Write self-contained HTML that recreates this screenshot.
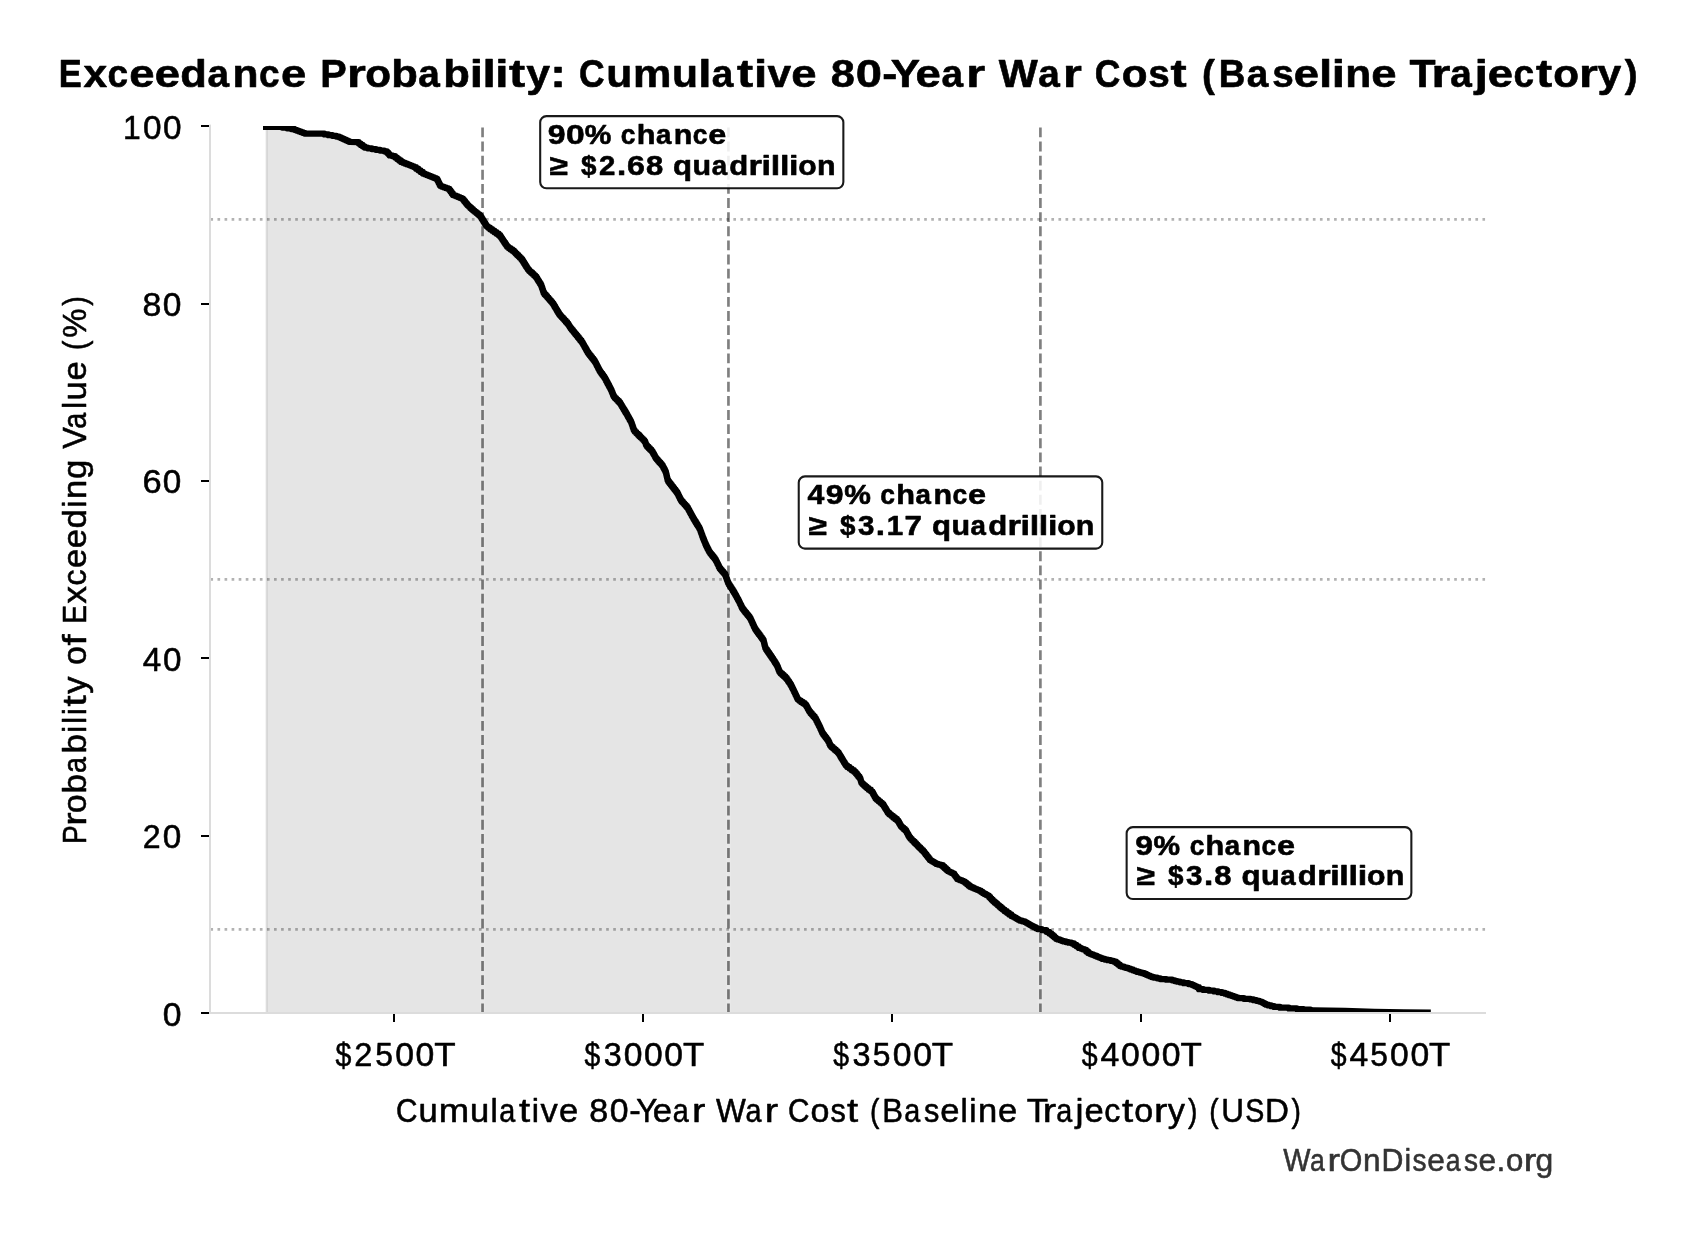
<!DOCTYPE html>
<html lang="en"><head><meta charset="utf-8"><title>Exceedance Probability: Cumulative 80-Year War Cost (Baseline Trajectory)</title>
<style>
html,body{margin:0;padding:0;background:#fff;}
body{width:1695px;height:1234px;overflow:hidden;}
svg{display:block;font-family:"Liberation Sans",sans-serif;will-change:transform;filter:grayscale(1);}
text{white-space:pre;}
</style></head><body>
<svg width="1695" height="1234" viewBox="0 0 1695 1234">
<rect width="1695" height="1234" fill="#fff"/>
<defs><clipPath id="ax"><rect x="210.0" y="125.9" width="1275.5" height="887.1"/></clipPath></defs>
<g clip-path="url(#ax)">
<path d="M266.6,1013.0 L266.6,128.0 L279.6,126.9 L285.0,127.5 L293.4,129.0 L305.7,133.5 L308.2,133.6 L322.4,133.7 L338.3,136.6 L349.9,141.8 L357.7,142.2 L365.5,147.6 L386.3,151.3 L390.2,155.4 L394.1,156.1 L401.9,161.9 L414.8,167.1 L423.9,173.6 L436.9,178.8 L440.4,185.8 L448.8,188.8 L453.4,194.9 L462.4,198.5 L467.9,205.3 L473.7,210.5 L480.2,215.7 L486.7,226.1 L499.7,235.2 L507.5,246.8 L513.3,250.7 L521.8,259.2 L528.3,269.6 L536.0,276.7 L541.2,285.1 L543.8,292.9 L552.9,303.3 L559.4,314.3 L567.8,323.4 L570.0,327.1 L576.9,335.6 L582.1,342.1 L587.9,352.4 L595.0,361.5 L599.6,370.6 L604.8,377.8 L611.3,390.1 L613.9,396.6 L619.7,402.4 L626.8,414.1 L631.4,422.5 L634.0,430.3 L639.8,436.2 L645.0,441.4 L646.3,445.2 L652.1,451.1 L656.0,458.2 L662.3,465.2 L665.8,471.9 L667.8,480.4 L677.1,492.4 L681.0,500.2 L687.5,507.4 L692.7,517.1 L699.8,528.8 L703.1,537.9 L706.3,545.7 L709.6,552.1 L715.4,559.3 L719.9,568.4 L725.1,574.2 L728.4,583.3 L734.2,592.4 L738.8,600.8 L742.3,608.2 L750.2,618.0 L755.0,628.6 L763.5,640.2 L765.4,648.0 L772.6,658.4 L777.1,665.5 L779.7,672.0 L786.2,677.9 L790.7,684.4 L797.9,699.3 L805.7,704.5 L809.6,711.6 L815.4,718.1 L819.9,727.2 L822.5,733.0 L828.2,740.5 L830.4,745.6 L838.2,752.4 L846.0,765.3 L855.0,771.8 L860.2,778.3 L861.5,782.8 L867.4,788.0 L871.9,791.3 L875.8,798.4 L882.9,804.2 L888.1,812.7 L897.9,820.5 L901.1,826.3 L905.7,830.2 L909.6,837.3 L915.4,843.2 L923.8,851.6 L930.3,860.0 L936.8,863.9 L942.0,865.2 L948.5,871.1 L953.7,873.7 L957.6,878.9 L964.1,881.5 L970.6,886.7 L979.8,890.6 L983.5,893.1 L988.2,895.6 L993.4,901.0 L1003.4,909.6 L1012.4,916.1 L1020.2,920.6 L1024.1,921.3 L1031.9,925.8 L1038.4,929.1 L1044.9,930.0 L1050.7,933.6 L1056.6,938.8 L1064.4,941.4 L1072.8,943.3 L1079.9,947.9 L1085.1,949.8 L1089.0,953.1 L1095.5,955.7 L1103.3,958.9 L1115.0,961.5 L1120.8,966.0 L1129.3,968.6 L1138.3,971.9 L1143.5,973.2 L1152.6,977.1 L1161.7,979.0 L1170.8,979.7 L1181.2,982.3 L1191.0,984.1 L1197.4,987.0 L1200.3,989.2 L1212.1,990.7 L1223.9,992.9 L1238.7,998.1 L1249.0,998.8 L1260.8,1001.5 L1266.7,1004.7 L1275.5,1006.9 L1293.2,1008.4 L1313.9,1010.3 L1344.9,1010.8 L1374.4,1011.8 L1403.9,1012.4 L1427.7,1012.5 L1427.7,1013.0 Z" fill="rgba(0,0,0,0.102)" stroke="rgba(0,0,0,0.102)" stroke-width="2.08" stroke-linejoin="miter"/>
<line x1="482.55" y1="1013.35" x2="482.55" y2="126.0" stroke="#fff" stroke-opacity="0.14" stroke-width="5.4"/>
<line x1="728.45" y1="1013.35" x2="728.45" y2="126.0" stroke="#fff" stroke-opacity="0.14" stroke-width="5.4"/>
<line x1="1040.4" y1="1013.35" x2="1040.4" y2="126.0" stroke="#fff" stroke-opacity="0.14" stroke-width="5.4"/>
<path d="M266.1,126.90 L279.6,126.91 H282.30 V127.50 H285.00 H287.10 V128.25 H289.20 H291.30 V129.00 H293.40 H294.42 V129.75 H295.45 H296.47 V130.50 H297.50 H298.52 V131.25 H299.55 H300.57 V132.00 H301.60 H302.62 V132.75 H303.65 H304.68 V133.50 H305.70 L308.2,133.60 L322.4,133.70 H324.39 V134.42 H326.38 H328.36 V135.15 H330.35 H332.34 V135.87 H334.33 H336.31 V136.60 H338.30 H339.13 V137.34 H339.96 H340.79 V138.09 H341.61 H342.44 V138.83 H343.27 H344.10 V139.57 H344.93 H345.76 V140.31 H346.59 H347.41 V141.06 H348.24 H349.07 V141.80 H349.90 L357.7,142.20 H358.68 V143.55 H359.65 H360.62 V144.90 H361.60 H362.57 V146.25 H363.55 H364.52 V147.60 H365.50 H367.58 V148.34 H369.66 H371.74 V149.08 H373.82 H375.90 V149.82 H377.98 H380.06 V150.56 H382.14 H384.22 V151.30 H386.30 H386.95 V152.67 H387.60 H388.25 V154.03 H388.90 H389.55 V155.40 H390.20 H392.15 V156.10 H394.10 H395.08 V157.55 H396.05 H397.02 V159.00 H398.00 H398.98 V160.45 H399.95 H400.92 V161.90 H401.90 H402.82 V162.64 H403.74 H404.66 V163.39 H405.59 H406.51 V164.13 H407.43 H408.35 V164.87 H409.27 H410.19 V165.61 H411.11 H412.04 V166.36 H412.96 H413.88 V167.10 H414.80 H415.94 V168.72 H417.07 H418.21 V170.35 H419.35 H420.49 V171.97 H421.62 H422.76 V173.60 H423.90 H424.83 V174.34 H425.76 H426.69 V175.09 H427.61 H428.54 V175.83 H429.47 H430.40 V176.57 H431.33 H432.26 V177.31 H433.19 H434.11 V178.06 H435.04 H435.97 V178.80 H436.90 H437.25 V180.20 H437.60 H437.95 V181.60 H438.30 H438.65 V183.00 H439.00 H439.35 V184.40 H439.70 H440.05 V185.80 H440.40 H441.45 V186.55 H442.50 H443.55 V187.30 H444.60 H445.65 V188.05 H446.70 H447.75 V188.80 H448.80 H449.38 V190.33 H449.95 H450.52 V191.85 H451.10 H451.67 V193.38 H452.25 H452.82 V194.90 H453.40 H454.30 V195.62 H455.20 H456.10 V196.34 H457.00 H457.90 V197.06 H458.80 H459.70 V197.78 H460.60 H461.50 V198.50 H462.40 H462.95 V199.86 H463.50 H464.05 V201.22 H464.60 H465.15 V202.58 H465.70 H466.25 V203.94 H466.80 H467.35 V205.30 H467.90 H468.62 V206.60 H469.35 H470.07 V207.90 H470.80 H471.52 V209.20 H472.25 H472.97 V210.50 H473.70 H474.51 V211.80 H475.32 H476.14 V213.10 H476.95 H477.76 V214.40 H478.57 H479.39 V215.70 H480.20 H480.66 V217.19 H481.13 H481.59 V218.67 H482.06 H482.52 V220.16 H482.99 H483.45 V221.64 H483.91 H484.38 V223.13 H484.84 H485.31 V224.61 H485.77 H486.24 V226.10 H486.70 H487.78 V227.62 H488.87 H489.95 V229.13 H491.03 H492.12 V230.65 H493.20 H494.28 V232.17 H495.37 H496.45 V233.68 H497.53 H498.62 V235.20 H499.70 H500.19 V236.65 H500.68 H501.16 V238.10 H501.65 H502.14 V239.55 H502.63 H503.11 V241.00 H503.60 H504.09 V242.45 H504.58 H505.06 V243.90 H505.55 H506.04 V245.35 H506.53 H507.01 V246.80 H507.50 H508.47 V248.10 H509.43 H510.40 V249.40 H511.37 H512.33 V250.70 H513.30 H514.01 V252.12 H514.72 H515.42 V253.53 H516.13 H516.84 V254.95 H517.55 H518.26 V256.37 H518.97 H519.67 V257.78 H520.38 H521.09 V259.20 H521.80 H522.26 V260.69 H522.73 H523.19 V262.17 H523.66 H524.12 V263.66 H524.59 H525.05 V265.14 H525.51 H525.98 V266.63 H526.44 H526.91 V268.11 H527.37 H527.84 V269.60 H528.30 H529.07 V271.02 H529.84 H530.61 V272.44 H531.38 H532.15 V273.86 H532.92 H533.69 V275.28 H534.46 H535.23 V276.70 H536.00 H536.43 V278.10 H536.87 H537.30 V279.50 H537.73 H538.17 V280.90 H538.60 H539.03 V282.30 H539.47 H539.90 V283.70 H540.33 H540.77 V285.10 H541.20 H541.46 V286.66 H541.72 H541.98 V288.22 H542.24 H542.50 V289.78 H542.76 H543.02 V291.34 H543.28 H543.54 V292.90 H543.80 H544.45 V294.39 H545.10 H545.75 V295.87 H546.40 H547.05 V297.36 H547.70 H548.35 V298.84 H549.00 H549.65 V300.33 H550.30 H550.95 V301.81 H551.60 H552.25 V303.30 H552.90 H553.36 V304.87 H553.83 H554.29 V306.44 H554.76 H555.22 V308.01 H555.69 H556.15 V309.59 H556.61 H557.08 V311.16 H557.54 H558.01 V312.73 H558.47 H558.94 V314.30 H559.40 H560.10 V315.82 H560.80 H561.50 V317.33 H562.20 H562.90 V318.85 H563.60 H564.30 V320.37 H565.00 H565.70 V321.88 H566.40 H567.10 V323.40 H567.80 H568.17 V324.63 H568.53 H568.90 V325.87 H569.27 H569.63 V327.10 H570.00 H570.58 V328.52 H571.15 H571.73 V329.93 H572.30 H572.88 V331.35 H573.45 H574.02 V332.77 H574.60 H575.17 V334.18 H575.75 H576.32 V335.60 H576.90 H577.55 V337.23 H578.20 H578.85 V338.85 H579.50 H580.15 V340.48 H580.80 H581.45 V342.10 H582.10 H582.51 V343.57 H582.93 H583.34 V345.04 H583.76 H584.17 V346.51 H584.59 H585.00 V347.99 H585.41 H585.83 V349.46 H586.24 H586.66 V350.93 H587.07 H587.49 V352.40 H587.90 H588.49 V353.92 H589.08 H589.67 V355.43 H590.27 H590.86 V356.95 H591.45 H592.04 V358.47 H592.63 H593.23 V359.98 H593.82 H594.41 V361.50 H595.00 H595.38 V363.02 H595.77 H596.15 V364.53 H596.53 H596.92 V366.05 H597.30 H597.68 V367.57 H598.07 H598.45 V369.08 H598.83 H599.22 V370.60 H599.60 H600.12 V372.04 H600.64 H601.16 V373.48 H601.68 H602.20 V374.92 H602.72 H603.24 V376.36 H603.76 H604.28 V377.80 H604.80 H605.21 V379.34 H605.61 H606.02 V380.88 H606.42 H606.83 V382.41 H607.24 H607.64 V383.95 H608.05 H608.46 V385.49 H608.86 H609.27 V387.03 H609.67 H610.08 V388.56 H610.49 H610.89 V390.10 H611.30 H611.62 V391.73 H611.95 H612.27 V393.35 H612.60 H612.92 V394.98 H613.25 H613.57 V396.60 H613.90 H614.62 V398.05 H615.35 H616.08 V399.50 H616.80 H617.53 V400.95 H618.25 H618.98 V402.40 H619.70 H620.14 V403.86 H620.59 H621.03 V405.32 H621.48 H621.92 V406.79 H622.36 H622.81 V408.25 H623.25 H623.69 V409.71 H624.14 H624.58 V411.17 H625.03 H625.47 V412.64 H625.91 H626.36 V414.10 H626.80 H627.18 V415.50 H627.57 H627.95 V416.90 H628.33 H628.72 V418.30 H629.10 H629.48 V419.70 H629.87 H630.25 V421.10 H630.63 H631.02 V422.50 H631.40 H631.66 V424.06 H631.92 H632.18 V425.62 H632.44 H632.70 V427.18 H632.96 H633.22 V428.74 H633.48 H633.74 V430.30 H634.00 H634.73 V431.77 H635.45 H636.18 V433.25 H636.90 H637.63 V434.73 H638.35 H639.08 V436.20 H639.80 H640.45 V437.50 H641.10 H641.75 V438.80 H642.40 H643.05 V440.10 H643.70 H644.35 V441.40 H645.00 H645.22 V442.67 H645.43 H645.65 V443.93 H645.87 H646.08 V445.20 H646.30 H647.02 V446.68 H647.75 H648.48 V448.15 H649.20 H649.93 V449.63 H650.65 H651.38 V451.10 H652.10 H652.49 V452.52 H652.88 H653.27 V453.94 H653.66 H654.05 V455.36 H654.44 H654.83 V456.78 H655.22 H655.61 V458.20 H656.00 H656.63 V459.60 H657.26 H657.89 V461.00 H658.52 H659.15 V462.40 H659.78 H660.41 V463.80 H661.04 H661.67 V465.20 H662.30 H662.65 V466.54 H663.00 H663.35 V467.88 H663.70 H664.05 V469.22 H664.40 H664.75 V470.56 H665.10 H665.45 V471.90 H665.80 H665.97 V473.32 H666.13 H666.30 V474.73 H666.47 H666.63 V476.15 H666.80 H666.97 V477.57 H667.13 H667.30 V478.98 H667.47 H667.63 V480.40 H667.80 H668.38 V481.90 H668.96 H669.54 V483.40 H670.12 H670.71 V484.90 H671.29 H671.87 V486.40 H672.45 H673.03 V487.90 H673.61 H674.19 V489.40 H674.78 H675.36 V490.90 H675.94 H676.52 V492.40 H677.10 H677.49 V493.96 H677.88 H678.27 V495.52 H678.66 H679.05 V497.08 H679.44 H679.83 V498.64 H680.22 H680.61 V500.20 H681.00 H681.65 V501.64 H682.30 H682.95 V503.08 H683.60 H684.25 V504.52 H684.90 H685.55 V505.96 H686.20 H686.85 V507.40 H687.50 H687.87 V508.79 H688.24 H688.61 V510.17 H688.99 H689.36 V511.56 H689.73 H690.10 V512.94 H690.47 H690.84 V514.33 H691.21 H691.59 V515.71 H691.96 H692.33 V517.10 H692.70 H693.14 V518.56 H693.59 H694.03 V520.02 H694.48 H694.92 V521.49 H695.36 H695.81 V522.95 H696.25 H696.69 V524.41 H697.14 H697.58 V525.87 H698.03 H698.47 V527.34 H698.91 H699.36 V528.80 H699.80 H700.07 V530.32 H700.35 H700.62 V531.83 H700.90 H701.17 V533.35 H701.45 H701.72 V534.87 H702.00 H702.27 V536.38 H702.55 H702.82 V537.90 H703.10 H703.42 V539.46 H703.74 H704.06 V541.02 H704.38 H704.70 V542.58 H705.02 H705.34 V544.14 H705.66 H705.98 V545.70 H706.30 H706.71 V547.30 H707.12 H707.54 V548.90 H707.95 H708.36 V550.50 H708.78 H709.19 V552.10 H709.60 H710.18 V553.54 H710.76 H711.34 V554.98 H711.92 H712.50 V556.42 H713.08 H713.66 V557.86 H714.24 H714.82 V559.30 H715.40 H715.77 V560.82 H716.15 H716.52 V562.33 H716.90 H717.27 V563.85 H717.65 H718.02 V565.37 H718.40 H718.77 V566.88 H719.15 H719.52 V568.40 H719.90 H720.55 V569.85 H721.20 H721.85 V571.30 H722.50 H723.15 V572.75 H723.80 H724.45 V574.20 H725.10 H725.38 V575.72 H725.65 H725.92 V577.23 H726.20 H726.47 V578.75 H726.75 H727.02 V580.27 H727.30 H727.57 V581.78 H727.85 H728.12 V583.30 H728.40 H728.88 V584.82 H729.37 H729.85 V586.33 H730.33 H730.82 V587.85 H731.30 H731.78 V589.37 H732.27 H732.75 V590.88 H733.23 H733.72 V592.40 H734.20 H734.58 V593.80 H734.97 H735.35 V595.20 H735.73 H736.12 V596.60 H736.50 H736.88 V598.00 H737.27 H737.65 V599.40 H738.03 H738.42 V600.80 H738.80 H739.15 V602.28 H739.50 H739.85 V603.76 H740.20 H740.55 V605.24 H740.90 H741.25 V606.72 H741.60 H741.95 V608.20 H742.30 H742.86 V609.60 H743.43 H743.99 V611.00 H744.56 H745.12 V612.40 H745.69 H746.25 V613.80 H746.81 H747.38 V615.20 H747.94 H748.51 V616.60 H749.07 H749.64 V618.00 H750.20 H750.54 V619.51 H750.89 H751.23 V621.03 H751.57 H751.91 V622.54 H752.26 H752.60 V624.06 H752.94 H753.29 V625.57 H753.63 H753.97 V627.09 H754.31 H754.66 V628.60 H755.00 H755.53 V630.05 H756.06 H756.59 V631.50 H757.12 H757.66 V632.95 H758.19 H758.72 V634.40 H759.25 H759.78 V635.85 H760.31 H760.84 V637.30 H761.38 H761.91 V638.75 H762.44 H762.97 V640.20 H763.50 H763.69 V641.76 H763.88 H764.07 V643.32 H764.26 H764.45 V644.88 H764.64 H764.83 V646.44 H765.02 H765.21 V648.00 H765.40 H765.91 V649.49 H766.43 H766.94 V650.97 H767.46 H767.97 V652.46 H768.49 H769.00 V653.94 H769.51 H770.03 V655.43 H770.54 H771.06 V656.91 H771.57 H772.09 V658.40 H772.60 H773.05 V659.82 H773.50 H773.95 V661.24 H774.40 H774.85 V662.66 H775.30 H775.75 V664.08 H776.20 H776.65 V665.50 H777.10 H777.43 V667.12 H777.75 H778.08 V668.75 H778.40 H778.73 V670.38 H779.05 H779.38 V672.00 H779.70 H780.51 V673.48 H781.33 H782.14 V674.95 H782.95 H783.76 V676.43 H784.58 H785.39 V677.90 H786.20 H786.76 V679.52 H787.33 H787.89 V681.15 H788.45 H789.01 V682.77 H789.58 H790.14 V684.40 H790.70 H791.06 V685.89 H791.42 H791.78 V687.38 H792.14 H792.50 V688.87 H792.86 H793.22 V690.36 H793.58 H793.94 V691.85 H794.30 H794.66 V693.34 H795.02 H795.38 V694.83 H795.74 H796.10 V696.32 H796.46 H796.82 V697.81 H797.18 H797.54 V699.30 H797.90 H798.88 V700.60 H799.85 H800.83 V701.90 H801.80 H802.78 V703.20 H803.75 H804.73 V704.50 H805.70 H806.09 V705.92 H806.48 H806.87 V707.34 H807.26 H807.65 V708.76 H808.04 H808.43 V710.18 H808.82 H809.21 V711.60 H809.60 H810.33 V713.23 H811.05 H811.77 V714.85 H812.50 H813.23 V716.48 H813.95 H814.68 V718.10 H815.40 H815.77 V719.62 H816.15 H816.52 V721.13 H816.90 H817.27 V722.65 H817.65 H818.02 V724.17 H818.40 H818.77 V725.68 H819.15 H819.52 V727.20 H819.90 H820.23 V728.65 H820.55 H820.88 V730.10 H821.20 H821.52 V731.55 H821.85 H822.17 V733.00 H822.50 H823.07 V734.50 H823.64 H824.21 V736.00 H824.78 H825.35 V737.50 H825.92 H826.49 V739.00 H827.06 H827.63 V740.50 H828.20 H828.57 V742.20 H828.93 H829.30 V743.90 H829.67 H830.03 V745.60 H830.40 H831.18 V746.96 H831.96 H832.74 V748.32 H833.52 H834.30 V749.68 H835.08 H835.86 V751.04 H836.64 H837.42 V752.40 H838.20 H838.63 V753.83 H839.07 H839.50 V755.27 H839.93 H840.37 V756.70 H840.80 H841.23 V758.13 H841.67 H842.10 V759.57 H842.53 H842.97 V761.00 H843.40 H843.83 V762.43 H844.27 H844.70 V763.87 H845.13 H845.57 V765.30 H846.00 H847.12 V766.92 H848.25 H849.38 V768.55 H850.50 H851.62 V770.17 H852.75 H853.88 V771.80 H855.00 H855.65 V773.42 H856.30 H856.95 V775.05 H857.60 H858.25 V776.67 H858.90 H859.55 V778.30 H860.20 H860.42 V779.80 H860.63 H860.85 V781.30 H861.07 H861.28 V782.80 H861.50 H862.24 V784.10 H862.98 H863.71 V785.40 H864.45 H865.19 V786.70 H865.93 H866.66 V788.00 H867.40 H868.52 V789.65 H869.65 H870.77 V791.30 H871.90 H872.29 V792.72 H872.68 H873.07 V794.14 H873.46 H873.85 V795.56 H874.24 H874.63 V796.98 H875.02 H875.41 V798.40 H875.80 H876.69 V799.85 H877.57 H878.46 V801.30 H879.35 H880.24 V802.75 H881.12 H882.01 V804.20 H882.90 H883.33 V805.62 H883.77 H884.20 V807.03 H884.63 H885.07 V808.45 H885.50 H885.93 V809.87 H886.37 H886.80 V811.28 H887.23 H887.67 V812.70 H888.10 H889.08 V814.26 H890.06 H891.04 V815.82 H892.02 H893.00 V817.38 H893.98 H894.96 V818.94 H895.94 H896.92 V820.50 H897.90 H898.30 V821.95 H898.70 H899.10 V823.40 H899.50 H899.90 V824.85 H900.30 H900.70 V826.30 H901.10 H901.87 V827.60 H902.63 H903.40 V828.90 H904.17 H904.93 V830.20 H905.70 H906.09 V831.62 H906.48 H906.87 V833.04 H907.26 H907.65 V834.46 H908.04 H908.43 V835.88 H908.82 H909.21 V837.30 H909.60 H910.33 V838.77 H911.05 H911.77 V840.25 H912.50 H913.23 V841.73 H913.95 H914.68 V843.20 H915.40 H916.10 V844.60 H916.80 H917.50 V846.00 H918.20 H918.90 V847.40 H919.60 H920.30 V848.80 H921.00 H921.70 V850.20 H922.40 H923.10 V851.60 H923.80 H924.34 V853.00 H924.88 H925.42 V854.40 H925.97 H926.51 V855.80 H927.05 H927.59 V857.20 H928.13 H928.68 V858.60 H929.22 H929.76 V860.00 H930.30 H930.95 V860.78 H931.60 H932.25 V861.56 H932.90 H933.55 V862.34 H934.20 H934.85 V863.12 H935.50 H936.15 V863.90 H936.80 H938.10 V864.55 H939.40 H940.70 V865.20 H942.00 H942.81 V866.68 H943.62 H944.44 V868.15 H945.25 H946.06 V869.63 H946.88 H947.69 V871.10 H948.50 H949.15 V871.75 H949.80 H950.45 V872.40 H951.10 H951.75 V873.05 H952.40 H953.05 V873.70 H953.70 H954.19 V875.00 H954.68 H955.16 V876.30 H955.65 H956.14 V877.60 H956.63 H957.11 V878.90 H957.60 H958.41 V879.55 H959.23 H960.04 V880.20 H960.85 H961.66 V880.85 H962.48 H963.29 V881.50 H964.10 H964.91 V882.80 H965.73 H966.54 V884.10 H967.35 H968.16 V885.40 H968.98 H969.79 V886.70 H970.60 H971.52 V887.48 H972.44 H973.36 V888.26 H974.28 H975.20 V889.04 H976.12 H977.04 V889.82 H977.96 H978.88 V890.60 H979.80 H980.72 V891.85 H981.65 H982.58 V893.10 H983.50 H984.28 V893.93 H985.07 H985.85 V894.77 H986.63 H987.42 V895.60 H988.20 H988.85 V896.95 H989.50 H990.15 V898.30 H990.80 H991.45 V899.65 H992.10 H992.75 V901.00 H993.40 H994.23 V902.43 H995.07 H995.90 V903.87 H996.73 H997.57 V905.30 H998.40 H999.23 V906.73 H1000.07 H1000.90 V908.17 H1001.73 H1002.57 V909.60 H1003.40 H1004.52 V911.23 H1005.65 H1006.77 V912.85 H1007.90 H1009.02 V914.48 H1010.15 H1011.27 V916.10 H1012.40 H1013.05 V916.85 H1013.70 H1014.35 V917.60 H1015.00 H1015.65 V918.35 H1016.30 H1016.95 V919.10 H1017.60 H1018.25 V919.85 H1018.90 H1019.55 V920.60 H1020.20 H1022.15 V921.30 H1024.10 H1024.75 V922.05 H1025.40 H1026.05 V922.80 H1026.70 H1027.35 V923.55 H1028.00 H1028.65 V924.30 H1029.30 H1029.95 V925.05 H1030.60 H1031.25 V925.80 H1031.90 H1032.71 V926.62 H1033.53 H1034.34 V927.45 H1035.15 H1035.96 V928.28 H1036.78 H1037.59 V929.10 H1038.40 H1041.65 V930.00 H1044.90 H1046.35 V931.80 H1047.80 H1049.25 V933.60 H1050.70 H1051.44 V934.90 H1052.17 H1052.91 V936.20 H1053.65 H1054.39 V937.50 H1055.12 H1055.86 V938.80 H1056.60 H1057.57 V939.45 H1058.55 H1059.53 V940.10 H1060.50 H1061.47 V940.75 H1062.45 H1063.43 V941.40 H1064.40 H1065.80 V942.03 H1067.20 H1068.60 V942.67 H1070.00 H1071.40 V943.30 H1072.80 H1073.98 V944.83 H1075.17 H1076.35 V946.37 H1077.53 H1078.72 V947.90 H1079.90 H1080.77 V948.53 H1081.63 H1082.50 V949.17 H1083.37 H1084.23 V949.80 H1085.10 H1086.07 V951.45 H1087.05 H1088.03 V953.10 H1089.00 H1089.81 V953.75 H1090.62 H1091.44 V954.40 H1092.25 H1093.06 V955.05 H1093.88 H1094.69 V955.70 H1095.50 H1096.47 V956.50 H1097.45 H1098.42 V957.30 H1099.40 H1100.38 V958.10 H1101.35 H1102.33 V958.90 H1103.30 H1104.76 V959.55 H1106.22 H1107.69 V960.20 H1109.15 H1110.61 V960.85 H1112.07 H1113.54 V961.50 H1115.00 H1115.97 V963.00 H1116.93 H1117.90 V964.50 H1118.87 H1119.83 V966.00 H1120.80 H1121.86 V966.65 H1122.92 H1123.99 V967.30 H1125.05 H1126.11 V967.95 H1127.17 H1128.24 V968.60 H1129.30 H1130.42 V969.42 H1131.55 H1132.67 V970.25 H1133.80 H1134.92 V971.08 H1136.05 H1137.17 V971.90 H1138.30 H1139.60 V972.55 H1140.90 H1142.20 V973.20 H1143.50 H1144.41 V973.98 H1145.32 H1146.23 V974.76 H1147.14 H1148.05 V975.54 H1148.96 H1149.87 V976.32 H1150.78 H1151.69 V977.10 H1152.60 H1154.12 V977.73 H1155.63 H1157.15 V978.37 H1158.67 H1160.18 V979.00 H1161.70 H1166.25 V979.70 H1170.80 H1172.10 V980.35 H1173.40 H1174.70 V981.00 H1176.00 H1177.30 V981.65 H1178.60 H1179.90 V982.30 H1181.20 H1183.65 V983.20 H1186.10 H1188.55 V984.10 H1191.00 H1191.80 V984.83 H1192.60 H1193.40 V985.55 H1194.20 H1195.00 V986.28 H1195.80 H1196.60 V987.00 H1197.40 H1198.85 V989.20 H1200.30 H1203.25 V989.95 H1206.20 H1209.15 V990.70 H1212.10 H1214.07 V991.43 H1216.03 H1218.00 V992.17 H1219.97 H1221.93 V992.90 H1223.90 H1224.96 V993.64 H1226.01 H1227.07 V994.39 H1228.13 H1229.19 V995.13 H1230.24 H1231.30 V995.87 H1232.36 H1233.41 V996.61 H1234.47 H1235.53 V997.36 H1236.59 H1237.64 V998.10 H1238.70 H1243.85 V998.80 H1249.00 H1250.47 V999.47 H1251.95 H1253.42 V1000.15 H1254.90 H1256.38 V1000.82 H1257.85 H1259.33 V1001.50 H1260.80 H1261.54 V1002.30 H1262.28 H1263.01 V1003.10 H1263.75 H1264.49 V1003.90 H1265.22 H1265.96 V1004.70 H1266.70 H1268.17 V1005.43 H1269.63 H1271.10 V1006.17 H1272.57 H1274.03 V1006.90 H1275.50 H1279.92 V1007.65 H1284.35 H1288.77 V1008.40 H1293.20 H1296.65 V1009.03 H1300.10 H1303.55 V1009.67 H1307.00 H1310.45 V1010.30 H1313.90 L1344.9,1010.80 L1374.4,1011.80 L1403.9,1012.40 L1427.7,1012.50" fill="none" stroke="#000" stroke-width="6.25" stroke-linejoin="round" stroke-linecap="square"/>
<line x1="482.55" y1="1013.35" x2="482.55" y2="126.0" stroke="#000" stroke-opacity="0.5" stroke-width="2.67" stroke-dasharray="9.87 4.26"/>
<line x1="728.45" y1="1013.35" x2="728.45" y2="126.0" stroke="#000" stroke-opacity="0.5" stroke-width="2.67" stroke-dasharray="9.87 4.26"/>
<line x1="1040.4" y1="1013.35" x2="1040.4" y2="126.0" stroke="#000" stroke-opacity="0.5" stroke-width="2.67" stroke-dasharray="9.87 4.26"/>
<line x1="210.4" y1="219.4" x2="1485.5" y2="219.4" stroke="#000" stroke-opacity="0.3" stroke-width="2.67" stroke-dasharray="2.67 4.397"/>
<line x1="210.4" y1="579.45" x2="1485.5" y2="579.45" stroke="#000" stroke-opacity="0.3" stroke-width="2.67" stroke-dasharray="2.67 4.397"/>
<line x1="210.4" y1="929.45" x2="1485.5" y2="929.45" stroke="#000" stroke-opacity="0.3" stroke-width="2.67" stroke-dasharray="2.67 4.397"/>
</g>
<rect x="209" y="124.6" width="2" height="889.4" fill="#dcdcdc"/>
<rect x="209" y="1012" width="1277" height="2" fill="#dcdcdc"/>
<rect x="201" y="125" width="8" height="2" fill="#000"/>
<rect x="201" y="303" width="8" height="2" fill="#000"/>
<rect x="201" y="480" width="8" height="2" fill="#000"/>
<rect x="201" y="657" width="8" height="2" fill="#000"/>
<rect x="201" y="835" width="8" height="2" fill="#000"/>
<rect x="201" y="1012" width="8" height="2" fill="#000"/>
<rect x="393" y="1014" width="2" height="8" fill="#000"/>
<rect x="642" y="1014" width="2" height="8" fill="#000"/>
<rect x="891" y="1014" width="2" height="8" fill="#000"/>
<rect x="1140" y="1014" width="2" height="8" fill="#000"/>
<rect x="1389" y="1014" width="2" height="8" fill="#000"/>
<text y="139.40" font-size="32.8" stroke="#000" stroke-width="0.55" stroke-linejoin="round"><tspan x="123.07" textLength="17.71" lengthAdjust="spacingAndGlyphs">1</tspan><tspan x="142.93" textLength="18.54" lengthAdjust="spacingAndGlyphs">0</tspan><tspan x="163.06" textLength="18.54" lengthAdjust="spacingAndGlyphs">0</tspan></text>
<text y="315.90" font-size="32.8" stroke="#000" stroke-width="0.55" stroke-linejoin="round"><tspan x="142.43" textLength="18.85" lengthAdjust="spacingAndGlyphs">8</tspan><tspan x="162.76" textLength="18.65" lengthAdjust="spacingAndGlyphs">0</tspan></text>
<text y="493.20" font-size="32.8" stroke="#000" stroke-width="0.55" stroke-linejoin="round"><tspan x="142.45" textLength="19.17" lengthAdjust="spacingAndGlyphs">6</tspan><tspan x="162.88" textLength="18.52" lengthAdjust="spacingAndGlyphs">0</tspan></text>
<text y="670.60" font-size="32.8" stroke="#000" stroke-width="0.55" stroke-linejoin="round"><tspan x="142.84" textLength="18.49" lengthAdjust="spacingAndGlyphs">4</tspan><tspan x="162.91" textLength="18.49" lengthAdjust="spacingAndGlyphs">0</tspan></text>
<text y="848.00" font-size="32.8" stroke="#000" stroke-width="0.55" stroke-linejoin="round"><tspan x="142.69" textLength="17.86" lengthAdjust="spacingAndGlyphs">2</tspan><tspan x="162.87" textLength="18.53" lengthAdjust="spacingAndGlyphs">0</tspan></text>
<text y="1026.40" font-size="32.8" stroke="#000" stroke-width="0.55" stroke-linejoin="round"><tspan x="162.68" textLength="18.73" lengthAdjust="spacingAndGlyphs">0</tspan></text>
<text y="1065.80" font-size="32.8" stroke="#000" stroke-width="0.55" stroke-linejoin="round"><tspan x="335.59" textLength="15.84" lengthAdjust="spacingAndGlyphs">$</tspan><tspan x="354.35" textLength="18.12" lengthAdjust="spacingAndGlyphs">2</tspan><tspan x="375.23" textLength="17.74" lengthAdjust="spacingAndGlyphs">5</tspan><tspan x="395.22" textLength="18.79" lengthAdjust="spacingAndGlyphs">0</tspan><tspan x="415.62" textLength="18.79" lengthAdjust="spacingAndGlyphs">0</tspan><tspan x="434.34" textLength="21.36" lengthAdjust="spacingAndGlyphs">T</tspan></text>
<text y="1065.80" font-size="32.8" stroke="#000" stroke-width="0.55" stroke-linejoin="round"><tspan x="584.60" textLength="15.77" lengthAdjust="spacingAndGlyphs">$</tspan><tspan x="603.76" textLength="17.97" lengthAdjust="spacingAndGlyphs">3</tspan><tspan x="623.66" textLength="18.72" lengthAdjust="spacingAndGlyphs">0</tspan><tspan x="643.97" textLength="18.72" lengthAdjust="spacingAndGlyphs">0</tspan><tspan x="664.28" textLength="18.72" lengthAdjust="spacingAndGlyphs">0</tspan><tspan x="682.93" textLength="21.27" lengthAdjust="spacingAndGlyphs">T</tspan></text>
<text y="1065.80" font-size="32.8" stroke="#000" stroke-width="0.55" stroke-linejoin="round"><tspan x="833.29" textLength="15.81" lengthAdjust="spacingAndGlyphs">$</tspan><tspan x="852.51" textLength="18.02" lengthAdjust="spacingAndGlyphs">3</tspan><tspan x="872.86" textLength="17.71" lengthAdjust="spacingAndGlyphs">5</tspan><tspan x="892.82" textLength="18.76" lengthAdjust="spacingAndGlyphs">0</tspan><tspan x="913.19" textLength="18.76" lengthAdjust="spacingAndGlyphs">0</tspan><tspan x="931.88" textLength="21.32" lengthAdjust="spacingAndGlyphs">T</tspan></text>
<text y="1065.80" font-size="32.8" stroke="#000" stroke-width="0.55" stroke-linejoin="round"><tspan x="1081.79" textLength="15.84" lengthAdjust="spacingAndGlyphs">$</tspan><tspan x="1100.63" textLength="18.80" lengthAdjust="spacingAndGlyphs">4</tspan><tspan x="1121.03" textLength="18.79" lengthAdjust="spacingAndGlyphs">0</tspan><tspan x="1141.42" textLength="18.79" lengthAdjust="spacingAndGlyphs">0</tspan><tspan x="1161.82" textLength="18.79" lengthAdjust="spacingAndGlyphs">0</tspan><tspan x="1180.54" textLength="21.36" lengthAdjust="spacingAndGlyphs">T</tspan></text>
<text y="1065.80" font-size="32.8" stroke="#000" stroke-width="0.55" stroke-linejoin="round"><tspan x="1330.70" textLength="15.79" lengthAdjust="spacingAndGlyphs">$</tspan><tspan x="1349.46" textLength="18.73" lengthAdjust="spacingAndGlyphs">4</tspan><tspan x="1370.20" textLength="17.68" lengthAdjust="spacingAndGlyphs">5</tspan><tspan x="1390.12" textLength="18.73" lengthAdjust="spacingAndGlyphs">0</tspan><tspan x="1410.45" textLength="18.73" lengthAdjust="spacingAndGlyphs">0</tspan><tspan x="1429.11" textLength="21.29" lengthAdjust="spacingAndGlyphs">T</tspan></text>
<text y="86.60" font-size="39.7" stroke="#000" stroke-width="0.6" stroke-linejoin="round" font-weight="bold"><tspan x="58.79" textLength="23.04" lengthAdjust="spacingAndGlyphs">E</tspan><tspan x="83.50" textLength="23.60" lengthAdjust="spacingAndGlyphs">x</tspan><tspan x="107.51" textLength="20.60" lengthAdjust="spacingAndGlyphs">c</tspan><tspan x="129.36" textLength="25.29" lengthAdjust="spacingAndGlyphs">e</tspan><tspan x="154.74" textLength="25.29" lengthAdjust="spacingAndGlyphs">e</tspan><tspan x="180.17" textLength="26.62" lengthAdjust="spacingAndGlyphs">d</tspan><tspan x="207.53" textLength="21.59" lengthAdjust="spacingAndGlyphs">a</tspan><tspan x="232.64" textLength="26.02" lengthAdjust="spacingAndGlyphs">n</tspan><tspan x="259.10" textLength="20.60" lengthAdjust="spacingAndGlyphs">c</tspan><tspan x="280.95" textLength="25.29" lengthAdjust="spacingAndGlyphs">e</tspan><tspan x="306.49"> </tspan><tspan x="320.29" textLength="26.46" lengthAdjust="spacingAndGlyphs">P</tspan><tspan x="347.02" textLength="18.85" lengthAdjust="spacingAndGlyphs">r</tspan><tspan x="365.34" textLength="25.79" lengthAdjust="spacingAndGlyphs">o</tspan><tspan x="391.36" textLength="26.62" lengthAdjust="spacingAndGlyphs">b</tspan><tspan x="418.34" textLength="21.59" lengthAdjust="spacingAndGlyphs">a</tspan><tspan x="443.38" textLength="26.62" lengthAdjust="spacingAndGlyphs">b</tspan><tspan x="469.71" textLength="13.24" lengthAdjust="spacingAndGlyphs">i</tspan><tspan x="482.53" textLength="13.24" lengthAdjust="spacingAndGlyphs">l</tspan><tspan x="495.36" textLength="13.24" lengthAdjust="spacingAndGlyphs">i</tspan><tspan x="509.06" textLength="16.13" lengthAdjust="spacingAndGlyphs">t</tspan><tspan x="526.37" textLength="23.82" lengthAdjust="spacingAndGlyphs">y</tspan><tspan x="550.31" textLength="15.62" lengthAdjust="spacingAndGlyphs">:</tspan><tspan x="565.60"> </tspan><tspan x="579.03" textLength="25.63" lengthAdjust="spacingAndGlyphs">C</tspan><tspan x="606.36" textLength="26.02" lengthAdjust="spacingAndGlyphs">u</tspan><tspan x="632.97" textLength="38.45" lengthAdjust="spacingAndGlyphs">m</tspan><tspan x="671.98" textLength="26.02" lengthAdjust="spacingAndGlyphs">u</tspan><tspan x="698.15" textLength="13.24" lengthAdjust="spacingAndGlyphs">l</tspan><tspan x="711.63" textLength="21.59" lengthAdjust="spacingAndGlyphs">a</tspan><tspan x="737.10" textLength="16.13" lengthAdjust="spacingAndGlyphs">t</tspan><tspan x="754.10" textLength="13.24" lengthAdjust="spacingAndGlyphs">i</tspan><tspan x="767.51" textLength="23.63" lengthAdjust="spacingAndGlyphs">v</tspan><tspan x="791.33" textLength="25.29" lengthAdjust="spacingAndGlyphs">e</tspan><tspan x="816.87"> </tspan><tspan x="830.80" textLength="24.14" lengthAdjust="spacingAndGlyphs">8</tspan><tspan x="855.85" textLength="26.25" lengthAdjust="spacingAndGlyphs">0</tspan><tspan x="882.22" textLength="15.05" lengthAdjust="spacingAndGlyphs">-</tspan><tspan x="890.87" textLength="29.28" lengthAdjust="spacingAndGlyphs">Y</tspan><tspan x="915.47" textLength="25.29" lengthAdjust="spacingAndGlyphs">e</tspan><tspan x="941.49" textLength="21.59" lengthAdjust="spacingAndGlyphs">a</tspan><tspan x="966.35" textLength="18.85" lengthAdjust="spacingAndGlyphs">r</tspan><tspan x="984.71"> </tspan><tspan x="998.81" textLength="39.06" lengthAdjust="spacingAndGlyphs">W</tspan><tspan x="1038.14" textLength="21.59" lengthAdjust="spacingAndGlyphs">a</tspan><tspan x="1063.00" textLength="18.85" lengthAdjust="spacingAndGlyphs">r</tspan><tspan x="1081.37"> </tspan><tspan x="1094.80" textLength="25.63" lengthAdjust="spacingAndGlyphs">C</tspan><tspan x="1121.81" textLength="25.79" lengthAdjust="spacingAndGlyphs">o</tspan><tspan x="1148.13" textLength="21.51" lengthAdjust="spacingAndGlyphs">s</tspan><tspan x="1170.51" textLength="16.13" lengthAdjust="spacingAndGlyphs">t</tspan><tspan x="1187.70"> </tspan><tspan x="1202.02" textLength="12.85" lengthAdjust="spacingAndGlyphs">(</tspan><tspan x="1218.80" textLength="26.59" lengthAdjust="spacingAndGlyphs">B</tspan><tspan x="1246.81" textLength="21.59" lengthAdjust="spacingAndGlyphs">a</tspan><tspan x="1272.17" textLength="21.51" lengthAdjust="spacingAndGlyphs">s</tspan><tspan x="1293.69" textLength="25.29" lengthAdjust="spacingAndGlyphs">e</tspan><tspan x="1319.04" textLength="13.24" lengthAdjust="spacingAndGlyphs">l</tspan><tspan x="1331.87" textLength="13.24" lengthAdjust="spacingAndGlyphs">i</tspan><tspan x="1345.21" textLength="26.02" lengthAdjust="spacingAndGlyphs">n</tspan><tspan x="1371.34" textLength="25.29" lengthAdjust="spacingAndGlyphs">e</tspan><tspan x="1396.89"> </tspan><tspan x="1409.61" textLength="26.07" lengthAdjust="spacingAndGlyphs">T</tspan><tspan x="1431.41" textLength="18.85" lengthAdjust="spacingAndGlyphs">r</tspan><tspan x="1450.24" textLength="21.59" lengthAdjust="spacingAndGlyphs">a</tspan><tspan x="1474.59" textLength="13.46" lengthAdjust="spacingAndGlyphs">j</tspan><tspan x="1487.67" textLength="25.29" lengthAdjust="spacingAndGlyphs">e</tspan><tspan x="1513.38" textLength="20.60" lengthAdjust="spacingAndGlyphs">c</tspan><tspan x="1536.09" textLength="16.13" lengthAdjust="spacingAndGlyphs">t</tspan><tspan x="1553.23" textLength="25.79" lengthAdjust="spacingAndGlyphs">o</tspan><tspan x="1579.07" textLength="18.85" lengthAdjust="spacingAndGlyphs">r</tspan><tspan x="1597.55" textLength="23.82" lengthAdjust="spacingAndGlyphs">y</tspan><tspan x="1624.77" textLength="12.85" lengthAdjust="spacingAndGlyphs">)</tspan></text>
<text y="1122.10" font-size="32.8" stroke="#000" stroke-width="0.55" stroke-linejoin="round"><tspan x="395.89" textLength="21.47" lengthAdjust="spacingAndGlyphs">C</tspan><tspan x="418.45" textLength="19.21" lengthAdjust="spacingAndGlyphs">u</tspan><tspan x="438.75" textLength="30.40" lengthAdjust="spacingAndGlyphs">m</tspan><tspan x="469.95" textLength="19.21" lengthAdjust="spacingAndGlyphs">u</tspan><tspan x="490.58" textLength="7.27" lengthAdjust="spacingAndGlyphs">l</tspan><tspan x="499.37" textLength="16.02" lengthAdjust="spacingAndGlyphs">a</tspan><tspan x="518.91" textLength="11.12" lengthAdjust="spacingAndGlyphs">t</tspan><tspan x="531.69" textLength="7.27" lengthAdjust="spacingAndGlyphs">i</tspan><tspan x="540.59" textLength="17.28" lengthAdjust="spacingAndGlyphs">v</tspan><tspan x="559.01" textLength="19.24" lengthAdjust="spacingAndGlyphs">e</tspan><tspan x="578.42"> </tspan><tspan x="589.29" textLength="18.98" lengthAdjust="spacingAndGlyphs">8</tspan><tspan x="609.77" textLength="18.78" lengthAdjust="spacingAndGlyphs">0</tspan><tspan x="629.39" textLength="11.50" lengthAdjust="spacingAndGlyphs">-</tspan><tspan x="636.36" textLength="21.08" lengthAdjust="spacingAndGlyphs">Y</tspan><tspan x="652.73" textLength="19.24" lengthAdjust="spacingAndGlyphs">e</tspan><tspan x="672.83" textLength="16.02" lengthAdjust="spacingAndGlyphs">a</tspan><tspan x="692.14" textLength="13.33" lengthAdjust="spacingAndGlyphs">r</tspan><tspan x="704.93"> </tspan><tspan x="716.04" textLength="29.81" lengthAdjust="spacingAndGlyphs">W</tspan><tspan x="745.44" textLength="16.02" lengthAdjust="spacingAndGlyphs">a</tspan><tspan x="764.74" textLength="13.33" lengthAdjust="spacingAndGlyphs">r</tspan><tspan x="777.53"> </tspan><tspan x="788.00" textLength="21.47" lengthAdjust="spacingAndGlyphs">C</tspan><tspan x="810.42" textLength="18.94" lengthAdjust="spacingAndGlyphs">o</tspan><tspan x="830.56" textLength="15.35" lengthAdjust="spacingAndGlyphs">s</tspan><tspan x="846.98" textLength="11.12" lengthAdjust="spacingAndGlyphs">t</tspan><tspan x="858.92"> </tspan><tspan x="869.96" textLength="9.39" lengthAdjust="spacingAndGlyphs">(</tspan><tspan x="882.19" textLength="20.76" lengthAdjust="spacingAndGlyphs">B</tspan><tspan x="904.28" textLength="16.02" lengthAdjust="spacingAndGlyphs">a</tspan><tspan x="924.09" textLength="15.35" lengthAdjust="spacingAndGlyphs">s</tspan><tspan x="940.19" textLength="19.24" lengthAdjust="spacingAndGlyphs">e</tspan><tspan x="960.41" textLength="7.27" lengthAdjust="spacingAndGlyphs">l</tspan><tspan x="969.33" textLength="7.27" lengthAdjust="spacingAndGlyphs">i</tspan><tspan x="978.01" textLength="19.21" lengthAdjust="spacingAndGlyphs">n</tspan><tspan x="998.00" textLength="19.24" lengthAdjust="spacingAndGlyphs">e</tspan><tspan x="1017.41"> </tspan><tspan x="1026.71" textLength="21.34" lengthAdjust="spacingAndGlyphs">T</tspan><tspan x="1042.83" textLength="13.33" lengthAdjust="spacingAndGlyphs">r</tspan><tspan x="1056.31" textLength="16.02" lengthAdjust="spacingAndGlyphs">a</tspan><tspan x="1075.55" textLength="8.03" lengthAdjust="spacingAndGlyphs">j</tspan><tspan x="1084.44" textLength="19.24" lengthAdjust="spacingAndGlyphs">e</tspan><tspan x="1104.25" textLength="16.07" lengthAdjust="spacingAndGlyphs">c</tspan><tspan x="1122.07" textLength="11.12" lengthAdjust="spacingAndGlyphs">t</tspan><tspan x="1134.36" textLength="18.94" lengthAdjust="spacingAndGlyphs">o</tspan><tspan x="1154.00" textLength="13.33" lengthAdjust="spacingAndGlyphs">r</tspan><tspan x="1167.65" textLength="17.20" lengthAdjust="spacingAndGlyphs">y</tspan><tspan x="1187.99" textLength="9.39" lengthAdjust="spacingAndGlyphs">)</tspan><tspan x="1198.24"> </tspan><tspan x="1209.27" textLength="9.39" lengthAdjust="spacingAndGlyphs">(</tspan><tspan x="1221.27" textLength="22.73" lengthAdjust="spacingAndGlyphs">U</tspan><tspan x="1245.17" textLength="19.04" lengthAdjust="spacingAndGlyphs">S</tspan><tspan x="1265.12" textLength="23.93" lengthAdjust="spacingAndGlyphs">D</tspan><tspan x="1291.61" textLength="9.39" lengthAdjust="spacingAndGlyphs">)</tspan></text>
<text transform="rotate(-90)" y="86.10" font-size="32.8" stroke="#000" stroke-width="0.55" stroke-linejoin="round"><tspan x="-844.02" textLength="18.88" lengthAdjust="spacingAndGlyphs">P</tspan><tspan x="-825.73" textLength="13.33" lengthAdjust="spacingAndGlyphs">r</tspan><tspan x="-813.31" textLength="18.92" lengthAdjust="spacingAndGlyphs">o</tspan><tspan x="-793.40" textLength="19.37" lengthAdjust="spacingAndGlyphs">b</tspan><tspan x="-773.05" textLength="16.01" lengthAdjust="spacingAndGlyphs">a</tspan><tspan x="-753.48" textLength="19.37" lengthAdjust="spacingAndGlyphs">b</tspan><tspan x="-732.99" textLength="7.27" lengthAdjust="spacingAndGlyphs">i</tspan><tspan x="-724.12" textLength="7.27" lengthAdjust="spacingAndGlyphs">l</tspan><tspan x="-715.21" textLength="7.27" lengthAdjust="spacingAndGlyphs">i</tspan><tspan x="-706.54" textLength="11.12" lengthAdjust="spacingAndGlyphs">t</tspan><tspan x="-693.73" textLength="17.19" lengthAdjust="spacingAndGlyphs">y</tspan><tspan x="-675.66"> </tspan><tspan x="-665.14" textLength="18.92" lengthAdjust="spacingAndGlyphs">o</tspan><tspan x="-645.47" textLength="11.12" lengthAdjust="spacingAndGlyphs">f</tspan><tspan x="-634.63"> </tspan><tspan x="-623.76" textLength="18.81" lengthAdjust="spacingAndGlyphs">E</tspan><tspan x="-603.71" textLength="17.75" lengthAdjust="spacingAndGlyphs">x</tspan><tspan x="-585.46" textLength="16.06" lengthAdjust="spacingAndGlyphs">c</tspan><tspan x="-567.96" textLength="19.23" lengthAdjust="spacingAndGlyphs">e</tspan><tspan x="-548.27" textLength="19.23" lengthAdjust="spacingAndGlyphs">e</tspan><tspan x="-528.58" textLength="19.35" lengthAdjust="spacingAndGlyphs">d</tspan><tspan x="-507.74" textLength="7.27" lengthAdjust="spacingAndGlyphs">i</tspan><tspan x="-499.06" textLength="19.19" lengthAdjust="spacingAndGlyphs">n</tspan><tspan x="-479.08" textLength="19.35" lengthAdjust="spacingAndGlyphs">g</tspan><tspan x="-459.07"> </tspan><tspan x="-448.79" textLength="21.66" lengthAdjust="spacingAndGlyphs">V</tspan><tspan x="-428.79" textLength="16.01" lengthAdjust="spacingAndGlyphs">a</tspan><tspan x="-409.06" textLength="7.27" lengthAdjust="spacingAndGlyphs">l</tspan><tspan x="-400.51" textLength="19.19" lengthAdjust="spacingAndGlyphs">u</tspan><tspan x="-380.40" textLength="19.23" lengthAdjust="spacingAndGlyphs">e</tspan><tspan x="-361.01"> </tspan><tspan x="-349.99" textLength="9.39" lengthAdjust="spacingAndGlyphs">(</tspan><tspan x="-337.75" textLength="29.22" lengthAdjust="spacingAndGlyphs">%</tspan><tspan x="-305.69" textLength="9.39" lengthAdjust="spacingAndGlyphs">)</tspan></text>
<text y="1171.10" font-size="30.9" stroke="#333" stroke-width="0.55" stroke-linejoin="round" fill="#333"><tspan x="1283.17" textLength="27.27" lengthAdjust="spacingAndGlyphs">W</tspan><tspan x="1310.01" textLength="14.78" lengthAdjust="spacingAndGlyphs">a</tspan><tspan x="1327.56" textLength="12.51" lengthAdjust="spacingAndGlyphs">r</tspan><tspan x="1339.72" textLength="22.54" lengthAdjust="spacingAndGlyphs">O</tspan><tspan x="1363.08" textLength="17.58" lengthAdjust="spacingAndGlyphs">n</tspan><tspan x="1381.48" textLength="21.90" lengthAdjust="spacingAndGlyphs">D</tspan><tspan x="1404.42" textLength="6.66" lengthAdjust="spacingAndGlyphs">i</tspan><tspan x="1412.61" textLength="14.05" lengthAdjust="spacingAndGlyphs">s</tspan><tspan x="1427.35" textLength="17.61" lengthAdjust="spacingAndGlyphs">e</tspan><tspan x="1445.68" textLength="14.78" lengthAdjust="spacingAndGlyphs">a</tspan><tspan x="1463.88" textLength="14.05" lengthAdjust="spacingAndGlyphs">s</tspan><tspan x="1478.61" textLength="17.61" lengthAdjust="spacingAndGlyphs">e</tspan><tspan x="1496.61" textLength="8.81" lengthAdjust="spacingAndGlyphs">.</tspan><tspan x="1506.00" textLength="17.33" lengthAdjust="spacingAndGlyphs">o</tspan><tspan x="1523.79" textLength="12.51" lengthAdjust="spacingAndGlyphs">r</tspan><tspan x="1535.44" textLength="17.72" lengthAdjust="spacingAndGlyphs">g</tspan></text>
<rect x="540.19" y="116.14" width="303.17" height="72.12" rx="6.2" ry="6.2" fill="#fff" fill-opacity="0.88" stroke="#000" stroke-opacity="0.9" stroke-width="2.08"/>
<text y="143.90" font-size="28.3" stroke="#000" stroke-width="0.6" stroke-linejoin="round" font-weight="bold"><tspan x="547.79" textLength="17.79" lengthAdjust="spacingAndGlyphs">9</tspan><tspan x="566.05" textLength="18.74" lengthAdjust="spacingAndGlyphs">0</tspan><tspan x="584.80" textLength="26.59" lengthAdjust="spacingAndGlyphs">%</tspan><tspan x="611.45"> </tspan><tspan x="620.87" textLength="14.71" lengthAdjust="spacingAndGlyphs">c</tspan><tspan x="636.69" textLength="18.73" lengthAdjust="spacingAndGlyphs">h</tspan><tspan x="655.94" textLength="15.41" lengthAdjust="spacingAndGlyphs">a</tspan><tspan x="673.86" textLength="18.58" lengthAdjust="spacingAndGlyphs">n</tspan><tspan x="692.76" textLength="14.71" lengthAdjust="spacingAndGlyphs">c</tspan><tspan x="708.35" textLength="18.05" lengthAdjust="spacingAndGlyphs">e</tspan></text>
<text y="174.50" font-size="28.3" stroke="#000" stroke-width="0.6" stroke-linejoin="round" font-weight="bold"><tspan x="549.60" textLength="18.34" lengthAdjust="spacingAndGlyphs">≥</tspan><tspan x="569.97"> </tspan><tspan x="581.00" textLength="15.46" lengthAdjust="spacingAndGlyphs">$</tspan><tspan x="598.98" textLength="16.36" lengthAdjust="spacingAndGlyphs">2</tspan><tspan x="616.96" textLength="9.25" lengthAdjust="spacingAndGlyphs">.</tspan><tspan x="627.13" textLength="17.85" lengthAdjust="spacingAndGlyphs">6</tspan><tspan x="645.90" textLength="17.25" lengthAdjust="spacingAndGlyphs">8</tspan><tspan x="663.86"> </tspan><tspan x="673.09" textLength="19.06" lengthAdjust="spacingAndGlyphs">q</tspan><tspan x="692.51" textLength="18.60" lengthAdjust="spacingAndGlyphs">u</tspan><tspan x="711.68" textLength="15.43" lengthAdjust="spacingAndGlyphs">a</tspan><tspan x="729.32" textLength="19.02" lengthAdjust="spacingAndGlyphs">d</tspan><tspan x="748.61" textLength="13.44" lengthAdjust="spacingAndGlyphs">r</tspan><tspan x="761.59" textLength="9.46" lengthAdjust="spacingAndGlyphs">i</tspan><tspan x="770.75" textLength="9.46" lengthAdjust="spacingAndGlyphs">l</tspan><tspan x="779.92" textLength="9.46" lengthAdjust="spacingAndGlyphs">l</tspan><tspan x="789.08" textLength="9.46" lengthAdjust="spacingAndGlyphs">i</tspan><tspan x="798.35" textLength="18.43" lengthAdjust="spacingAndGlyphs">o</tspan><tspan x="816.99" textLength="18.60" lengthAdjust="spacingAndGlyphs">n</tspan></text>
<rect x="798.74" y="476.34" width="303.52" height="72.32" rx="6.2" ry="6.2" fill="#fff" fill-opacity="0.88" stroke="#000" stroke-opacity="0.9" stroke-width="2.08"/>
<text y="503.90" font-size="28.3" stroke="#000" stroke-width="0.6" stroke-linejoin="round" font-weight="bold"><tspan x="807.54" textLength="16.82" lengthAdjust="spacingAndGlyphs">4</tspan><tspan x="825.70" textLength="17.83" lengthAdjust="spacingAndGlyphs">9</tspan><tspan x="844.17" textLength="26.65" lengthAdjust="spacingAndGlyphs">%</tspan><tspan x="870.88"> </tspan><tspan x="880.32" textLength="14.74" lengthAdjust="spacingAndGlyphs">c</tspan><tspan x="896.18" textLength="18.77" lengthAdjust="spacingAndGlyphs">h</tspan><tspan x="915.47" textLength="15.45" lengthAdjust="spacingAndGlyphs">a</tspan><tspan x="933.44" textLength="18.62" lengthAdjust="spacingAndGlyphs">n</tspan><tspan x="952.38" textLength="14.74" lengthAdjust="spacingAndGlyphs">c</tspan><tspan x="968.01" textLength="18.10" lengthAdjust="spacingAndGlyphs">e</tspan></text>
<text y="534.50" font-size="28.3" stroke="#000" stroke-width="0.6" stroke-linejoin="round" font-weight="bold"><tspan x="808.50" textLength="18.34" lengthAdjust="spacingAndGlyphs">≥</tspan><tspan x="828.87"> </tspan><tspan x="839.90" textLength="15.46" lengthAdjust="spacingAndGlyphs">$</tspan><tspan x="857.90" textLength="16.43" lengthAdjust="spacingAndGlyphs">3</tspan><tspan x="875.86" textLength="9.25" lengthAdjust="spacingAndGlyphs">.</tspan><tspan x="886.71" textLength="16.43" lengthAdjust="spacingAndGlyphs">1</tspan><tspan x="904.60" textLength="17.41" lengthAdjust="spacingAndGlyphs">7</tspan><tspan x="922.76"> </tspan><tspan x="931.99" textLength="19.06" lengthAdjust="spacingAndGlyphs">q</tspan><tspan x="951.41" textLength="18.60" lengthAdjust="spacingAndGlyphs">u</tspan><tspan x="970.58" textLength="15.43" lengthAdjust="spacingAndGlyphs">a</tspan><tspan x="988.22" textLength="19.02" lengthAdjust="spacingAndGlyphs">d</tspan><tspan x="1007.51" textLength="13.44" lengthAdjust="spacingAndGlyphs">r</tspan><tspan x="1020.49" textLength="9.46" lengthAdjust="spacingAndGlyphs">i</tspan><tspan x="1029.65" textLength="9.46" lengthAdjust="spacingAndGlyphs">l</tspan><tspan x="1038.82" textLength="9.46" lengthAdjust="spacingAndGlyphs">l</tspan><tspan x="1047.98" textLength="9.46" lengthAdjust="spacingAndGlyphs">i</tspan><tspan x="1057.25" textLength="18.43" lengthAdjust="spacingAndGlyphs">o</tspan><tspan x="1075.89" textLength="18.60" lengthAdjust="spacingAndGlyphs">n</tspan></text>
<rect x="1126.64" y="827.14" width="284.72" height="71.92" rx="6.2" ry="6.2" fill="#fff" fill-opacity="0.88" stroke="#000" stroke-opacity="0.9" stroke-width="2.08"/>
<text y="854.50" font-size="28.3" stroke="#000" stroke-width="0.6" stroke-linejoin="round" font-weight="bold"><tspan x="1135.19" textLength="17.78" lengthAdjust="spacingAndGlyphs">9</tspan><tspan x="1153.61" textLength="26.57" lengthAdjust="spacingAndGlyphs">%</tspan><tspan x="1180.23"> </tspan><tspan x="1189.64" textLength="14.70" lengthAdjust="spacingAndGlyphs">c</tspan><tspan x="1205.45" textLength="18.71" lengthAdjust="spacingAndGlyphs">h</tspan><tspan x="1224.69" textLength="15.40" lengthAdjust="spacingAndGlyphs">a</tspan><tspan x="1242.60" textLength="18.56" lengthAdjust="spacingAndGlyphs">n</tspan><tspan x="1261.48" textLength="14.70" lengthAdjust="spacingAndGlyphs">c</tspan><tspan x="1277.07" textLength="18.04" lengthAdjust="spacingAndGlyphs">e</tspan></text>
<text y="884.70" font-size="28.3" stroke="#000" stroke-width="0.6" stroke-linejoin="round" font-weight="bold"><tspan x="1136.50" textLength="18.37" lengthAdjust="spacingAndGlyphs">≥</tspan><tspan x="1156.90"> </tspan><tspan x="1167.95" textLength="15.49" lengthAdjust="spacingAndGlyphs">$</tspan><tspan x="1185.97" textLength="16.46" lengthAdjust="spacingAndGlyphs">3</tspan><tspan x="1203.96" textLength="9.27" lengthAdjust="spacingAndGlyphs">.</tspan><tspan x="1214.32" textLength="17.28" lengthAdjust="spacingAndGlyphs">8</tspan><tspan x="1232.30"> </tspan><tspan x="1241.55" textLength="19.09" lengthAdjust="spacingAndGlyphs">q</tspan><tspan x="1261.00" textLength="18.62" lengthAdjust="spacingAndGlyphs">u</tspan><tspan x="1280.20" textLength="15.45" lengthAdjust="spacingAndGlyphs">a</tspan><tspan x="1297.86" textLength="19.05" lengthAdjust="spacingAndGlyphs">d</tspan><tspan x="1317.20" textLength="13.44" lengthAdjust="spacingAndGlyphs">r</tspan><tspan x="1330.18" textLength="9.48" lengthAdjust="spacingAndGlyphs">i</tspan><tspan x="1339.36" textLength="9.48" lengthAdjust="spacingAndGlyphs">l</tspan><tspan x="1348.54" textLength="9.48" lengthAdjust="spacingAndGlyphs">l</tspan><tspan x="1357.72" textLength="9.48" lengthAdjust="spacingAndGlyphs">i</tspan><tspan x="1367.00" textLength="18.46" lengthAdjust="spacingAndGlyphs">o</tspan><tspan x="1385.67" textLength="18.62" lengthAdjust="spacingAndGlyphs">n</tspan></text>
</svg>
</body></html>
